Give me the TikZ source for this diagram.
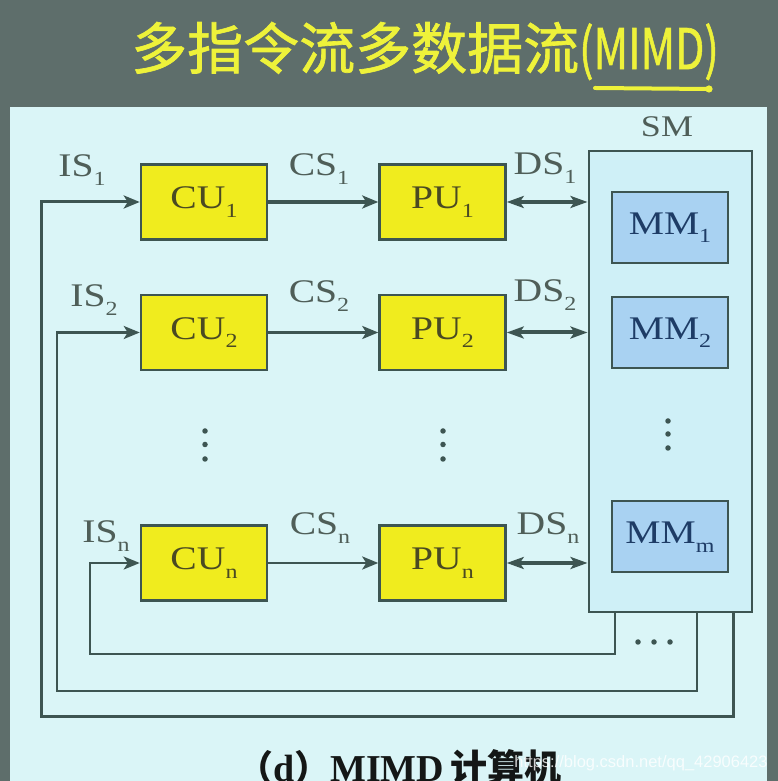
\documentclass[tikz,border=0pt]{standalone}
\usepackage{fontspec}
\setmainfont[FakeStretch=1.2]{Liberation Serif}
\newfontfamily\capfont{Liberation Serif}
\newfontfamily\cjk{Noto Sans CJK SC}
\newfontfamily\cjktitle[FakeBold=1.2]{Noto Sans CJK SC}
\newfontfamily\wmfont{Liberation Sans}
\usetikzlibrary{positioning,arrows.meta}
\definecolor{slidebg}{HTML}{5E6E6B}
\definecolor{panelc}{HTML}{DAF5F7}
\definecolor{smfill}{HTML}{CFF0F7}
\definecolor{boxyellow}{HTML}{F0EC1E}
\definecolor{mmblue}{HTML}{A9D2F2}
\definecolor{linec}{HTML}{3D5552}
\definecolor{lblc}{HTML}{4F5E58}
\definecolor{cutext}{HTML}{4A4A22}
\definecolor{mmtext}{HTML}{1E3C66}
\definecolor{titlec}{HTML}{EEF23A}
\newcommand{\sbs}[1]{\raisebox{-.26em}{\fontsize{20}{20}\selectfont #1}}
\tikzset{
  unitbox/.style={rectangle, draw=linec, line width=2.5pt, minimum width=126pt, minimum height=75pt, inner sep=0pt, font=\fontsize{33}{36}\selectfont},
  cubox/.style={unitbox, fill=boxyellow, text=cutext},
  mmbox/.style={unitbox, fill=mmblue, text=mmtext, minimum width=116pt, minimum height=71pt, line width=2pt},
  smbox/.style={rectangle, draw=linec, line width=2pt, fill=smfill, minimum width=163pt, minimum height=461pt},
  lbl/.style={text=lblc, font=\fontsize{33}{36}\selectfont, anchor=base, inner sep=0pt},
  fwd/.style={-{Stealth[length=16pt,width=13pt,inset=4pt]}, line width=2.8pt, draw=linec},
  fwdbold/.style={fwd, line width=4pt},
  bidir/.style={{Stealth[length=17pt,width=12pt,inset=4pt]}-{Stealth[length=17pt,width=12pt,inset=4pt]}, line width=4pt, draw=linec},
  loopline/.style={fwd, line width=2.6pt},
  dot/.style={circle, fill=linec, inner sep=0pt, minimum size=5.5pt},
}

\begin{document}
\begin{tikzpicture}[x=1pt,y=1pt]
\useasboundingbox (0,0) rectangle (778,781);
\clip (0,0) rectangle (778,781);
%Background
\fill[slidebg] (0,0) rectangle (778,781);
\fill[panelc] (10,0) rectangle (767,674);

%Title
\node[text=titlec, font=\fontsize{56}{58}\selectfont\cjktitle, inner sep=0pt] (title) at (425,730)
  {多指令流多数据流\scalebox{0.76}[1]{(MIMD)}};
\draw[titlec, line width=4pt, line cap=round] (595,693) -- (706,692);
\fill[titlec] (709,692) circle (3.6pt);

%Nodes
\node[cubox] (cu1) at (204,579) {CU\sbs{1}};
\node[cubox] (pu1) [right=110pt of cu1] {PU\sbs{1}};
\node[cubox] (cu2) [below=53pt of cu1] {CU\sbs{2}};
\node[cubox] (pu2) [right=110pt of cu2] {PU\sbs{2}};
\node[cubox] (cun) [below=153pt of cu2] {CU\sbs{n}};
\node[cubox] (pun) [right=110pt of cun] {PU\sbs{n}};

\node[smbox] (sm) at (670,399) {};
\node[lbl, font=\fontsize{30}{32}\selectfont] (smlbl) at (667,644) {SM};
\node[mmbox] (mm1) at (670,553.5) {MM\sbs{1}};
\node[mmbox] (mm2) [below=32pt of mm1] {MM\sbs{2}};
\node[mmbox] (mmm) at (670,244) {MM\sbs{m}};

%Labels
\node[lbl] (is1) at (82,604) {IS\sbs{1}};
\node[lbl] (cs1) at (319,605) {CS\sbs{1}};
\node[lbl] (ds1) at (545,606) {DS\sbs{1}};
\node[lbl] (is2) at (94,474) {IS\sbs{2}};
\node[lbl] (cs2) at (319,478) {CS\sbs{2}};
\node[lbl] (ds2) at (545,479) {DS\sbs{2}};
\node[lbl] (isn) at (106,238) {IS\sbs{n}};
\node[lbl] (csn) at (320,246) {CS\sbs{n}};
\node[lbl] (dsn) at (548,246) {DS\sbs{n}};

%Dots
\foreach \y in {350,336.5,322} {
  \node[dot] at (205,\y) {};
  \node[dot] at (443,\y) {};
}
\foreach \y in {360,347,333} \node[dot] at (668,\y) {};
\foreach \x in {638,654,670} \node[dot] at (\x,139) {};

%Lines
\draw[fwdbold] (cu1) -- (pu1);
\draw[fwd] (cu2) -- (pu2);
\draw[fwd] (cun) -- (pun);
\draw[bidir] (pu1.east) -- (pu1.east -| sm.west);
\draw[bidir] (pu2.east) -- (pu2.east -| sm.west);
\draw[bidir] (pun.east) -- (pun.east -| sm.west);

\coordinate (lp1) at (41,64);
\coordinate (lp2) at (57,90);
\coordinate (lpn) at (90,127);
\draw[loopline, line width=3pt] (sm.south -| 733,0) |- (lp1) |- (cu1.west);
\draw[loopline] (sm.south -| 697,0) |- (lp2) |- (cu2.west);
\draw[loopline] (sm.south -| 615,0) |- (lpn) |- (cun.west);

%Caption
\node[anchor=base west, inner sep=0pt, text=black!75!lblc, font=\fontsize{38}{40}\selectfont\bfseries] (caption) at (237,0)
  {{\cjk\fontsize{36}{40}\selectfont （}{\capfont d}{\cjk\fontsize{36}{40}\selectfont ）}{\capfont MIMD}\,{\cjk\fontsize{37}{40}\selectfont 计算机}};
\node[text=white, opacity=0.8, font=\fontsize{16.5}{18}\selectfont\wmfont, inner sep=0pt] (wm) at (641,18) {https://blog.csdn.net/qq\_42906423};
\end{tikzpicture}
\end{document}
